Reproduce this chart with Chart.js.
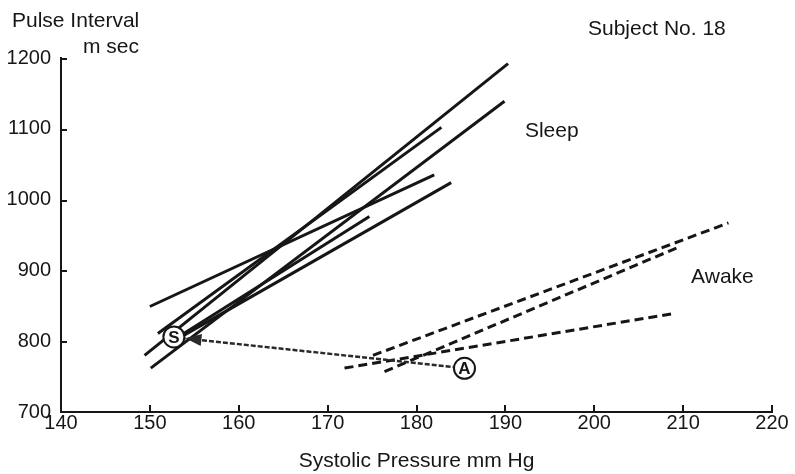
<!DOCTYPE html>
<html>
<head>
<meta charset="utf-8">
<script src="https://cdn.jsdelivr.net/npm/chart.js@4.4.0/dist/chart.umd.min.js"></script>
<style>
  html, body { margin: 0; padding: 0; background: #fff; }
  #wrap { width: 795px; height: 474px; }
</style>
</head>
<body>
<div id="wrap"><canvas id="pulseChart"></canvas></div>
<script>
// sleep regression lines (solid), start and end of each
const sleepX0 = [150, 149.4, 150.1, 150.9, 153.9, 152.7];
const sleepY0 = [849, 780, 762, 811, 809, 802];
const sleepX1 = [182, 190.3, 189.9, 182.8, 183.9, 174.7];
const sleepY1 = [1035, 1192, 1139, 1102, 1024, 976];

// awake regression lines (dashed)
const awakeX0 = [175.1, 176.4, 171.9];
const awakeY0 = [780, 757, 762];
const awakeX1 = [215.1, 209.7, 208.9];
const awakeY1 = [967, 934, 839];

// mean points S and A, and the arrow A -> S
const markLabels = ["S", "A"];
const markX = [152.7, 185.4];
const markY = [806, 761.7];
const arrowX = [185.4, 154];
const arrowY = [761.7, 804];

// ticks
const xTicks = [140, 150, 160, 170, 180, 190, 200, 210, 220];
const yTicks = [700, 800, 900, 1000, 1100, 1200];

// text in the plot
const noteText = ["Sleep", "Awake"];
const noteX = [192.2, 210.9];
const noteY = [1089, 882];

const FONT = "'Liberation Sans', Arial, sans-serif";
const INK = "#161616";

const datasets = [];

datasets.push({
  label: "marks",
  data: markX.map((x, i) => ({ x: x, y: markY[i] })),
  showLine: false,
  pointRadius: 10.5,
  pointBackgroundColor: "#fff",
  pointBorderColor: INK,
  pointBorderWidth: 2,
});

datasets.push({
  label: "arrow",
  data: arrowX.map((x, i) => ({ x: x, y: arrowY[i] })),
  showLine: true,
  borderColor: "#2a2a2a",
  borderWidth: 2.5,
  borderDash: [5, 2],
  pointRadius: 0,
});

for (let i = 0; i < sleepX0.length; i++) {
  datasets.push({
    label: "sleep" + i,
    data: [{ x: sleepX0[i], y: sleepY0[i] }, { x: sleepX1[i], y: sleepY1[i] }],
    showLine: true,
    borderColor: INK,
    borderWidth: 3,
    pointRadius: 0,
  });
}

for (let i = 0; i < awakeX0.length; i++) {
  datasets.push({
    label: "awake" + i,
    data: [{ x: awakeX0[i], y: awakeY0[i] }, { x: awakeX1[i], y: awakeY1[i] }],
    showLine: true,
    borderColor: INK,
    borderWidth: 3,
    borderDash: [9, 5],
    pointRadius: 0,
  });
}

const annotate = {
  id: "annotate",
  afterDraw(chart) {
    const ctx = chart.ctx;
    const xs = chart.scales.x;
    const ys = chart.scales.y;
    const area = chart.chartArea;

    // tick marks pointing into the plot
    ctx.save();
    ctx.strokeStyle = INK;
    ctx.lineWidth = 2;
    ctx.beginPath();
    xTicks.slice(1).forEach(v => {
      const px = Math.round(xs.getPixelForValue(v));
      ctx.moveTo(px, area.bottom);
      ctx.lineTo(px, area.bottom - 7);
    });
    yTicks.slice(1).forEach(v => {
      const py = Math.round(ys.getPixelForValue(v)) + 1;
      ctx.moveTo(area.left, py);
      ctx.lineTo(area.left + 6, py);
    });
    ctx.stroke();
    ctx.restore();

    // arrow head at the S end
    const am = chart.getDatasetMeta(1).data;
    const ang = Math.atan2(am[1].y - am[0].y, am[1].x - am[0].x);
    ctx.save();
    ctx.translate(am[1].x, am[1].y);
    ctx.rotate(ang);
    ctx.fillStyle = "#2a2a2a";
    ctx.beginPath();
    ctx.moveTo(0, 0);
    ctx.lineTo(-16, -6);
    ctx.lineTo(-16, 6);
    ctx.closePath();
    ctx.fill();
    ctx.restore();

    // letters in the circles
    const mm = chart.getDatasetMeta(0).data;
    ctx.save();
    ctx.fillStyle = INK;
    ctx.font = "bold 17px " + FONT;
    ctx.textAlign = "center";
    ctx.textBaseline = "middle";
    mm.forEach((p, i) => ctx.fillText(markLabels[i], p.x, p.y + 1));
    ctx.restore();

    // texts
    ctx.save();
    ctx.fillStyle = INK;
    ctx.font = "21px " + FONT;
    ctx.textBaseline = "alphabetic";
    ctx.textAlign = "left";
    noteText.forEach((t, i) => ctx.fillText(t, xs.getPixelForValue(noteX[i]), ys.getPixelForValue(noteY[i])));
    ctx.fillText("Pulse Interval", 12, 27);
    ctx.fillText("m sec", 83, 53);
    ctx.fillText("Subject No. 18", 588, 35);
    ctx.restore();
  }
};

const config = {
  type: "scatter",
  data: { datasets: datasets },
  options: {
    responsive: true,
    maintainAspectRatio: false,
    animation: false,
    layout: { padding: { top: 58, right: 23, left: 0, bottom: 0 } },
    plugins: {
      legend: { display: false },
      tooltip: { enabled: false },
    },
    scales: {
      x: {
        type: "linear",
        min: 140,
        max: 220,
        afterBuildTicks: (s) => { s.ticks = xTicks.map(v => ({ value: v })); },
        afterFit: (s) => { s.height = 62; },
        border: { display: true, color: INK, width: 2 },
        grid: { display: false, drawTicks: false },
        ticks: { color: INK, padding: -1, maxRotation: 0, font: { family: FONT, size: 20 }, callback: (v) => String(v) },
        title: { display: true, text: "Systolic Pressure mm Hg", color: INK, padding: { top: 0, bottom: 0 }, font: { family: FONT, size: 21 } },
      },
      y: {
        type: "linear",
        min: 700,
        max: 1200,
        afterBuildTicks: (s) => { s.ticks = yTicks.map(v => ({ value: v })); },
        afterFit: (s) => { s.width = 61; },
        border: { display: true, color: INK, width: 2 },
        grid: { display: false, drawTicks: false },
        ticks: { color: INK, padding: 10, font: { family: FONT, size: 20 }, callback: (v) => String(v) },
      },
    },
  },
  plugins: [annotate],
};

new Chart(document.getElementById("pulseChart"), config);
</script>
</body>
</html>
